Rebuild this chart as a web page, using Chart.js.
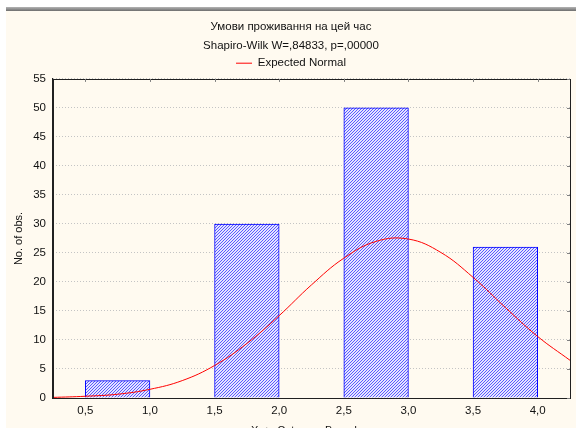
<!DOCTYPE html>
<html>
<head>
<meta charset="utf-8">
<script src="https://cdn.jsdelivr.net/npm/chart.js@4"></script>
<style>
html, body { margin: 0; padding: 0; background: #fff; overflow: hidden; width: 576px; height: 428px; }
#bar { position: absolute; left: 6px; top: 7px; width: 570px; height: 4px; background: linear-gradient(#b4b4b4, #6e6e6e); }
#wrap { position: absolute; left: 6px; top: 11px; width: 570px; height: 440px; background: #FFFAF0; }
</style>
</head>
<body>
<div id="bar"></div>
<div id="wrap"><canvas id="c" width="570" height="440"></canvas></div>
<script>
// dane histogramu
const titulo = ['Умови проживання на цей час', 'Shapiro-Wilk W=,84833, p=,00000'];
const centrosBarras = [0.75, 1.75, 2.75, 3.75];
const frecuencias = [3, 30, 50, 26];

// curva normal esperada
const curvaX = [0.25, 0.5, 0.75, 1.0, 1.25, 1.5, 1.75, 2.0, 2.25, 2.5, 2.75, 3.0, 3.25, 3.5, 3.75, 4.0, 4.25];
const curvaY = [0.1, 0.3, 0.65, 1.5, 3.0, 5.6, 9.4, 14.2, 19.5, 24.1, 27.0, 27.4, 25.1, 20.8, 15.6, 10.6, 6.5];

const ticksX = [0.5, 1.0, 1.5, 2.0, 2.5, 3.0, 3.5, 4.0];
const etiquetasX = ['0,5', '1,0', '1,5', '2,0', '2,5', '3,0', '3,5', '4,0'];

// patron rayado azul
function crearRayado() {
    let p = document.createElement('canvas');
    p.width = 3;
    p.height = 3;
    let c = p.getContext('2d');
    c.fillStyle = '#e4e4ff';
    c.fillRect(0, 0, 3, 3);
    c.fillStyle = '#5a5aff';
    for (let i = 0; i < 3; i++) {
        c.fillRect(i, 2 - i, 1, 1);
    }
    return c.createPattern(p, 'repeat');
}

const fuente = "'Liberation Sans', Arial, sans-serif";

// marco y marcas arriba / derecha
const marco = {
    id: 'marco',
    afterDatasetsDraw(chart) {
        const { ctx, chartArea: a, scales: { x, y } } = chart;
        ctx.save();
        ctx.strokeStyle = '#202020';
        ctx.lineWidth = 1;
        ctx.strokeRect(Math.round(a.left) + 0.5, Math.round(a.top) + 0.5, Math.round(a.right - a.left), Math.round(a.bottom - a.top));
        ctx.strokeStyle = '#808080';
        ctx.beginPath();
        ticksX.forEach(v => {
            let px = Math.round(x.getPixelForValue(v)) + 0.5;
            ctx.moveTo(px, a.top);
            ctx.lineTo(px, a.top + 3);
        });
        y.ticks.forEach(t => {
            let py = Math.round(y.getPixelForValue(t.value)) + 0.5;
            ctx.moveTo(a.right - 3, py);
            ctx.lineTo(a.right, py);
        });
        ctx.stroke();
        ctx.restore();
    }
};

new Chart(document.getElementById('c'), {
    type: 'bar',
    data: {
        datasets: [{
            type: 'line',
            label: 'Expected Normal',
            data: curvaX.map((v, i) => ({ x: v, y: curvaY[i] })),
            borderColor: '#ff0000',
            borderWidth: 1,
            pointRadius: 0,
            tension: 0.4,
            order: 0
        }, {
            label: 'hist',
            data: centrosBarras.map((v, i) => ({ x: v, y: frecuencias[i] })),
            backgroundColor: crearRayado(),
            borderColor: '#0000ff',
            borderWidth: 1,
            barPercentage: 1.0,
            categoryPercentage: 1.0,
            order: 1
        }]
    },
    options: {
        responsive: false,
        animation: false,
        layout: { padding: { left: 6, right: 6, top: 0, bottom: 13 } },
        scales: {
            x: {
                type: 'linear',
                min: 0.25,
                max: 4.25,
                offset: false,
                afterBuildTicks: s => { s.ticks = ticksX.map(v => ({ value: v })); },
                grid: { display: false, drawTicks: false },
                border: { display: true, color: '#202020' },
                ticks: {
                    padding: 6,
                    color: '#111',
                    font: { family: fuente, size: 11.5 },
                    callback: v => etiquetasX[ticksX.indexOf(v)]
                },
                title: {
                    display: true,
                    text: 'X <= Category Boundary',
                    color: '#111',
                    font: { family: fuente, size: 11 },
                    padding: { top: 1, bottom: 0 }
                }
            },
            y: {
                min: 0,
                max: 55,
                ticks: {
                    stepSize: 5,
                    padding: 7,
                    color: '#111',
                    font: { family: fuente, size: 11.5 }
                },
                grid: { color: '#c4c4c4', drawTicks: false },
                border: { display: true, color: '#202020', dash: [1, 2] },
                title: {
                    display: true,
                    text: 'No. of obs.',
                    color: '#111',
                    font: { family: fuente, size: 11 },
                    padding: { top: 0, bottom: 1 }
                }
            }
        },
        plugins: {
            title: {
                display: true,
                text: titulo,
                color: '#111',
                font: { family: fuente, size: 11.5, weight: 'normal', lineHeight: 1.65 },
                padding: { top: 6, bottom: 0 }
            },
            legend: {
                display: true,
                labels: {
                    filter: item => item.text === 'Expected Normal',
                    usePointStyle: true,
                    pointStyle: 'line',
                    pointStyleWidth: 16,
                    color: '#111',
                    font: { family: fuente, size: 11.5 },
                    padding: 2.5
                }
            },
            tooltip: { enabled: false }
        }
    },
    plugins: [marco]
});
</script>
</body>
</html>
